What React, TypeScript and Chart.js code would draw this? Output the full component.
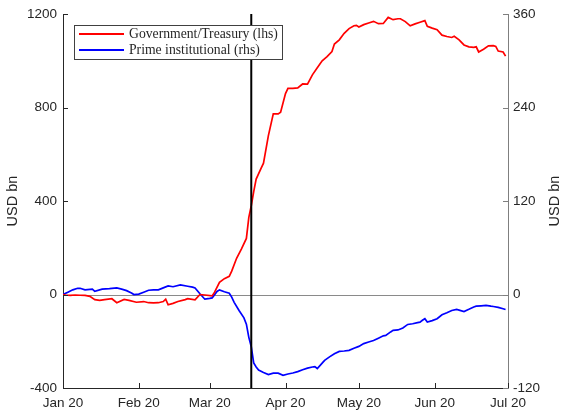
import React, { useEffect, useRef } from "react";
import { Chart, registerables } from "chart.js";

Chart.register(...registerables);

// x axis: days since 1 Jan 2020
const monthTicks = [0, 31, 60, 91, 121, 152, 182];
const monthLabels = ["Jan 20", "Feb 20", "Mar 20", "Apr 20", "May 20", "Jun 20", "Jul 20"];
const leftTicks = [-400, 0, 400, 800, 1200];
const rightTicks = [-120, 0, 120, 240, 360];
const eventDay = 77;

const govLabel = "Government/Treasury (lhs)";
const primeLabel = "Prime institutional (rhs)";

const govDays = [
  0, 1, 3, 5, 7, 9, 11, 13, 15, 17, 20, 22, 25, 27, 30, 33, 35, 37, 39, 41, 42, 43, 45, 47,
  50, 51, 54, 56, 58, 61, 62, 64, 66, 68, 69, 71, 73, 75, 76, 77, 78, 79, 81, 82, 84, 86, 88,
  89, 91, 92, 94, 96, 98, 100, 102, 104, 106, 108, 110, 111, 113, 115, 117, 119, 120, 121,
  123, 125, 127, 129, 131, 133, 135, 137, 138, 140, 142, 144, 146, 148, 149, 151, 153, 155,
  157, 159, 160, 162, 164, 166, 168, 169, 170, 172, 174, 176, 177, 178, 180, 181,
];
const govValues = [
  0, -2, -4, -2, -3, -4, -8, -22, -25, -22, -18, -35, -21, -25, -33, -30, -35, -36, -35, -30,
  -20, -44, -38, -30, -22, -18, -23, 0, -2, -6, 10, 52, 68, 78, 100, 155, 195, 240, 330, 380,
  440, 494, 540, 562, 680, 773, 773, 780, 860, 882, 882, 884, 901, 900, 940, 970, 1000, 1018,
  1040, 1072, 1090, 1118, 1138, 1150, 1152, 1145, 1155, 1162, 1169, 1159, 1160, 1186, 1176,
  1180, 1180, 1168, 1150, 1158, 1165, 1172, 1148, 1140, 1133, 1110, 1104, 1100, 1105, 1090,
  1068, 1060, 1058, 1060, 1038, 1050, 1064, 1065, 1062, 1042, 1038, 1020,
];

const primeDays = [
  0, 2, 4, 6, 7, 9, 12, 13, 16, 19, 22, 24, 26, 28, 29, 31, 33, 35, 37, 39, 41, 43, 45, 48,
  51, 53, 54, 56, 58, 60, 61, 63, 64, 66, 68, 69, 70, 72, 74, 75, 76, 77, 78, 79, 80, 82, 84,
  86, 88, 90, 92, 94, 96, 98, 100, 102, 103, 104, 106, 107, 109, 111, 113, 115, 117, 119, 121,
  123, 125, 127, 129, 131, 132, 134, 135, 137, 139, 141, 143, 145, 146, 147, 148, 149, 151,
  153, 155, 157, 159, 161, 162, 164, 166, 168, 169, 171, 173, 175, 176, 178, 180, 181,
];
const primeValues = [
  0, 3, 6, 8, 8, 6, 7, 4, 7, 7.5, 8.5, 7, 5, 2, 0, 0.5, 3, 5.5, 6, 6, 8.5, 11, 10, 12.4, 10.6,
  9.5, 8.5, 1, -6, -5, -4.3, 4, 6, 3.5, 1.7, -3.4, -10, -20.5, -30, -38, -55, -67, -88, -93,
  -97, -100, -102.8, -101, -101, -103.7, -102, -100.7, -99, -96.5, -94.5, -93, -92.5, -95,
  -88, -84.5, -80, -76, -73, -72.5, -71.7, -69, -66.6, -63, -61, -59, -56, -53, -52.5, -48,
  -46, -45.5, -43, -38.4, -37.5, -36, -35.4, -33, -31, -35.4, -33.5, -31, -26, -23.5, -20.5,
  -19.2, -20, -21.8, -19, -16, -15, -14.5, -14, -15, -15.4, -16.5, -18.3, -19.2,
];

const TEXT = "#262626";
const SANS = "'Liberation Sans', Arial, Helvetica, sans-serif";
const SERIF = "'Liberation Serif', 'Times New Roman', serif";

const overlayPlugin = {
  id: "overlay",
  beforeDatasetsDraw(chart: any) {
    const { ctx, chartArea } = chart;
    const y0 = chart.scales.y.getPixelForValue(0);
    ctx.save();
    ctx.strokeStyle = "#8a8a8a";
    ctx.lineWidth = 1;
    ctx.beginPath();
    ctx.moveTo(chartArea.left, Math.round(y0) + 0.5);
    ctx.lineTo(chartArea.right, Math.round(y0) + 0.5);
    ctx.stroke();
    ctx.restore();
  },
  afterDatasetsDraw(chart: any) {
    const { ctx, chartArea } = chart;
    const sx = chart.scales.x;
    const sy = chart.scales.y;
    const sy1 = chart.scales.y1;
    ctx.save();
    // event line
    const ex = sx.getPixelForValue(eventDay);
    ctx.strokeStyle = "#000000";
    ctx.lineWidth = 2;
    ctx.beginPath();
    ctx.moveTo(ex, chartArea.top);
    ctx.lineTo(ex, chartArea.bottom);
    ctx.stroke();
    // inward ticks
    const tl = 5;
    ctx.lineWidth = 1;
    ctx.strokeStyle = TEXT;
    ctx.beginPath();
    for (const v of leftTicks) {
      const y = Math.round(sy.getPixelForValue(v)) + 0.5;
      ctx.moveTo(chartArea.left, y);
      ctx.lineTo(chartArea.left + tl, y);
    }
    for (const v of monthTicks) {
      const x = Math.round(sx.getPixelForValue(v)) + 0.5;
      ctx.moveTo(x, chartArea.bottom);
      ctx.lineTo(x, chartArea.bottom - tl);
    }
    ctx.stroke();
    ctx.strokeStyle = "#7f7f7f";
    ctx.beginPath();
    for (const v of rightTicks) {
      const y = Math.round(sy1.getPixelForValue(v)) + 0.5;
      ctx.moveTo(chartArea.right, y);
      ctx.lineTo(chartArea.right - tl, y);
    }
    ctx.stroke();
    ctx.restore();
  },
  afterDraw(chart: any) {
    const { ctx, chartArea } = chart;
    ctx.save();
    // axis titles
    ctx.fillStyle = TEXT;
    ctx.font = `14.5px ${SANS}`;
    ctx.textAlign = "center";
    ctx.textBaseline = "middle";
    const cy = (chartArea.top + chartArea.bottom) / 2;
    for (const tx of [13, 555]) {
      ctx.save();
      ctx.translate(tx, cy);
      ctx.rotate(-Math.PI / 2);
      ctx.fillText("USD bn", 0, 0);
      ctx.restore();
    }
    // legend
    const bx = 74.5, by = 25.5, bw = 208, bh = 34;
    ctx.fillStyle = "#ffffff";
    ctx.fillRect(bx, by, bw, bh);
    ctx.strokeStyle = "#404040";
    ctx.lineWidth = 1;
    ctx.strokeRect(bx, by, bw, bh);
    ctx.font = `14px ${SERIF}`;
    const w14 = ctx.measureText(govLabel).width;
    const fs = (14 * 149) / w14;
    ctx.font = `${fs}px ${SERIF}`;
    ctx.textAlign = "left";
    ctx.textBaseline = "middle";
    const rows = [
      { label: govLabel, color: "#ff0000", y: 34 },
      { label: primeLabel, color: "#0000ff", y: 50 },
    ];
    for (const r of rows) {
      ctx.strokeStyle = r.color;
      ctx.lineWidth = 2;
      ctx.beginPath();
      ctx.moveTo(79, r.y);
      ctx.lineTo(124, r.y);
      ctx.stroke();
      ctx.fillStyle = TEXT;
      ctx.fillText(r.label, 129, r.y + 0.5);
    }
    ctx.restore();
  },
};

export default function App() {
  const canvasRef = useRef<HTMLCanvasElement | null>(null);

  useEffect(() => {
    const canvas = canvasRef.current;
    if (!canvas) return;
    const tickFont = { family: SANS, size: 13.5 };
    const plain = (v: any) => String(v);
    const chart = new Chart(canvas, {
      type: "line",
      data: {
        datasets: [
          {
            label: govLabel,
            data: govDays.map((d, i) => ({ x: d, y: govValues[i] })),
            borderColor: "#ff0000",
            borderWidth: 1.7,
            pointRadius: 0,
            tension: 0,
            yAxisID: "y",
          },
          {
            label: primeLabel,
            data: primeDays.map((d, i) => ({ x: d, y: primeValues[i] })),
            borderColor: "#0000ff",
            borderWidth: 1.7,
            pointRadius: 0,
            tension: 0,
            yAxisID: "y1",
          },
        ],
      },
      options: {
        animation: false,
        responsive: false,
        devicePixelRatio: 1,
        layout: { padding: { top: 13, left: 0, right: 0, bottom: 0 } },
        plugins: { legend: { display: false }, tooltip: { enabled: false } },
        scales: {
          x: {
            type: "linear",
            min: 0,
            max: 182,
            afterBuildTicks: (s: any) => {
              s.ticks = monthTicks.map((v) => ({ value: v }));
            },
            afterFit: (s: any) => {
              s.height = 27;
            },
            ticks: {
              autoSkip: false,
              maxRotation: 0,
              padding: 7,
              color: TEXT,
              font: tickFont,
              callback: (v: any) => monthLabels[monthTicks.indexOf(Number(v))] ?? "",
            },
            grid: { display: false, drawTicks: false },
            border: { display: true, color: TEXT, width: 1 },
          },
          y: {
            position: "left",
            min: -400,
            max: 1200,
            afterBuildTicks: (s: any) => {
              s.ticks = leftTicks.map((v) => ({ value: v }));
            },
            afterFit: (s: any) => {
              s.width = 63;
            },
            ticks: { padding: 6, color: TEXT, font: tickFont, callback: plain },
            grid: { display: false, drawTicks: false },
            border: { display: true, color: TEXT, width: 1 },
          },
          y1: {
            position: "right",
            min: -120,
            max: 360,
            afterBuildTicks: (s: any) => {
              s.ticks = rightTicks.map((v) => ({ value: v }));
            },
            afterFit: (s: any) => {
              s.width = 54;
            },
            ticks: { padding: 5, color: TEXT, font: tickFont, callback: plain },
            grid: { display: false, drawTicks: false },
            border: { display: true, color: "#7f7f7f", width: 1 },
          },
        },
      } as any,
      plugins: [overlayPlugin],
    });
    return () => chart.destroy();
  }, []);

  return (
    <div style={{ position: "absolute", left: 0, top: 0, width: 562, height: 415, background: "#ffffff" }}>
      <canvas ref={canvasRef} width={562} height={415} style={{ display: "block" }} />
    </div>
  );
}
